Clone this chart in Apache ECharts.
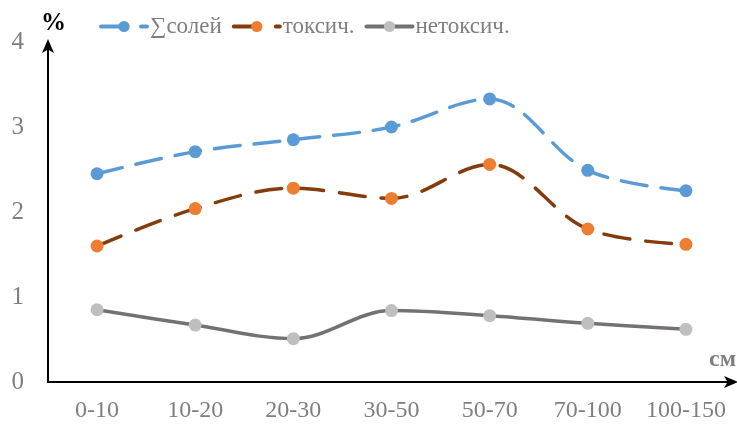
<!DOCTYPE html>
<html>
<head>
<meta charset="utf-8">
<script src="https://cdn.jsdelivr.net/npm/echarts@6/dist/echarts.min.js"></script>
<style>
  html, body { margin: 0; padding: 0; background: #fff; }
  #chart { width: 737px; height: 427px; }
</style>
</head>
<body>
<div id="chart"></div>
<script>
// Soil depth intervals, cm
const depths = ['0-10', '10-20', '20-30', '30-50', '50-70', '70-100', '100-150'];
// Salt content, %
const totalSalts = [2.45, 2.71, 2.85, 3.0, 3.33, 2.49, 2.25];
const toxicSalts = [1.6, 2.04, 2.28, 2.16, 2.56, 1.8, 1.62];
const nonToxicSalts = [0.85, 0.67, 0.51, 0.84, 0.78, 0.69, 0.62];
const yTicks = [0, 1, 2, 3, 4];
const seriesNames = ['∑солей', 'токсич.', 'нетоксич.'];

const font = 'Liberation Serif';
const chart = echarts.init(document.getElementById('chart'), null, { renderer: 'canvas' });

const mk = (name, data, lineColor, dotColor, dash) => ({
  name: name,
  type: 'line',
  data: data,
  smooth: 0.35,
  symbol: 'circle',
  symbolSize: 13,
  lineStyle: { color: lineColor, width: 3.5, type: dash, cap: 'round' },
  itemStyle: { color: dotColor },
  emphasis: { disabled: true }
});

chart.setOption({
  animation: false,
  textStyle: { fontFamily: font },
  legend: {
    top: 10,
    left: 94,
    itemWidth: 46,
    itemHeight: 14,
    itemGap: 10,
    lineStyle: { width: 4 },
    textStyle: { fontFamily: font, fontSize: 23, color: '#7f7f7f', padding: [0, 0, 0, -2] },
    data: seriesNames
  },
  grid: { left: 48, right: 2, top: 42, bottom: 45, containLabel: false, outerBoundsMode: 'none' },
  xAxis: {
    type: 'category',
    data: depths,
    boundaryGap: true,
    name: 'см',
    nameLocation: 'end',
    nameGap: -26,
    nameTextStyle: { fontFamily: font, fontSize: 24, fontWeight: 'bold', color: '#7f7f7f', verticalAlign: 'bottom', padding: [0, 0, 10, 0] },
    axisLine: { lineStyle: { color: '#000', width: 2 }, symbol: ['none', 'arrow'], symbolSize: [9, 14], symbolOffset: [0, 3] },
    axisTick: { show: false },
    axisLabel: { fontFamily: font, fontSize: 24, color: '#7f7f7f', margin: 17, interval: 0 }
  },
  yAxis: {
    type: 'value',
    min: 0,
    max: 4,
    interval: 1,
    name: '%',
    nameLocation: 'end',
    nameGap: 6,
    nameTextStyle: { fontFamily: font, fontSize: 25, fontWeight: 'bold', color: '#000', align: 'left', padding: [0, 0, 0, -7] },
    splitLine: { show: false },
    axisLine: { show: true, lineStyle: { color: '#000', width: 2 }, symbol: ['none', 'arrow'], symbolSize: [9, 14], symbolOffset: [0, 3] },
    axisTick: { show: false },
    axisLabel: { fontFamily: font, fontSize: 25, color: '#7f7f7f', margin: 24, formatter: v => yTicks.includes(v) ? String(v) : '' }
  },
  series: [
    mk(seriesNames[0], totalSalts, '#5b9bd5', '#5b9bd5', [26, 14]),
    mk(seriesNames[1], toxicSalts, '#843c0c', '#ed7d31', [26, 16]),
    mk(seriesNames[2], nonToxicSalts, '#767171', '#bfbfbf', 'solid')
  ]
});
</script>
</body>
</html>
